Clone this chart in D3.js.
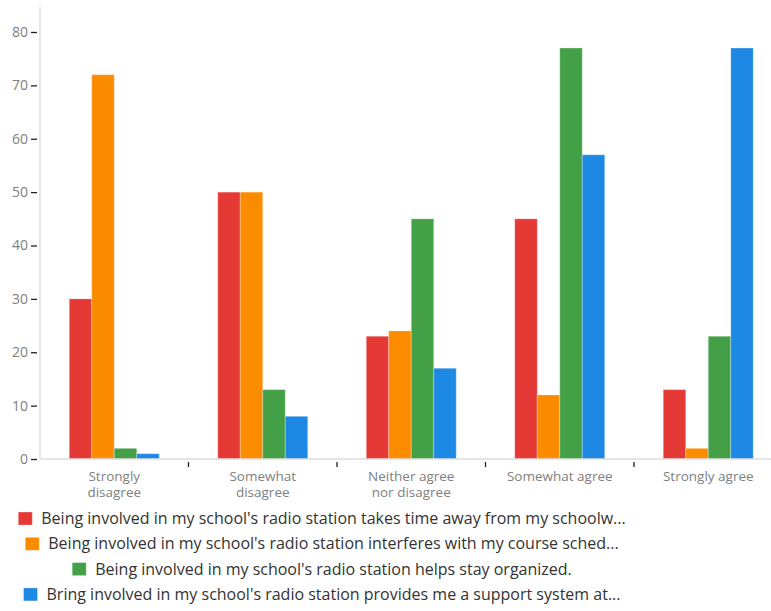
<!DOCTYPE html>
<html>
<head>
<meta charset="utf-8">
<script src="https://cdn.jsdelivr.net/npm/d3@7"></script>
<style>
  html, body { margin: 0; padding: 0; background: #fff; }
  svg { display: block; font-family: "Open Sans", "Noto Sans", sans-serif; }
</style>
</head>
<body>
<svg id="chart" width="771" height="611"></svg>
<script>
// Response categories (x axis) and how their labels break over lines
const categories = ["Strongly disagree", "Somewhat disagree", "Neither agree nor disagree", "Somewhat agree", "Strongly agree"];
const categoryLines = [["Strongly", "disagree"], ["Somewhat", "disagree"], ["Neither agree", "nor disagree"], ["Somewhat agree"], ["Strongly agree"]];

// One series per statement
const seriesNames = [
  "Being involved in my school's radio station takes time away from my schoolw...",
  "Being involved in my school's radio station interferes with my course sched...",
  "Being involved in my school's radio station helps stay organized.",
  "Bring involved in my school's radio station provides me a support system at..."
];
const takesTime    = [30, 50, 23, 45, 13];
const interferes   = [72, 50, 24, 12, 2];
const organized    = [2, 13, 45, 77, 23];
const supportSys   = [1, 8, 17, 57, 77];
const seriesValues = [takesTime, interferes, organized, supportSys];

const yTicks = [0, 10, 20, 30, 40, 50, 60, 70, 80];
const colors = ["#e53935", "#fb8c00", "#43a047", "#1e88e5"];

const svg = d3.select("#chart");

const left = 40, bandW = 148.5, bottom = 459;
const x = d3.scaleBand().domain(categories).range([left, left + bandW * categories.length]).padding(0);
const y = d3.scaleLinear().domain([0, 80]).range([bottom, 32]);
const xs = d3.scaleBand().domain(d3.range(seriesNames.length))
  .range([0, x.bandwidth()]).paddingOuter(1.3).paddingInner(0);

// Bars
const groups = svg.append("g").selectAll("g")
  .data(categories).join("g")
  .attr("transform", d => `translate(${x(d)},0)`);

groups.selectAll("rect")
  .data((d, i) => seriesValues.map((vals, s) => ({ s, v: vals[i] })))
  .join("rect")
  .attr("x", d => xs(d.s))
  .attr("width", xs.bandwidth())
  .attr("y", d => y(d.v))
  .attr("height", d => y(0) - y(d.v))
  .attr("fill", d => colors[d.s])
  .attr("stroke", "rgba(255,255,255,0.3)")
  .attr("stroke-width", 1);

// Y axis
const yAxis = svg.append("g").attr("transform", `translate(${left},0)`)
  .call(d3.axisLeft(y).tickValues(yTicks).tickSize(0).tickPadding(12));
yAxis.select(".domain").remove();
yAxis.append("line").attr("x1", 0).attr("x2", 0).attr("y1", 7).attr("y2", bottom)
  .attr("stroke", "#dcdcdc").attr("stroke-width", 1.5);
yAxis.selectAll(".tick").append("line")
  .attr("x1", -9).attr("x2", -3).attr("stroke", "#222").attr("stroke-width", 1.3);
yAxis.selectAll(".tick text").attr("fill", "#808080").attr("font-size", 14)
  .attr("font-family", "'Open Sans', sans-serif");

// X axis
const xAxis = svg.append("g").attr("transform", `translate(0,${bottom})`);
xAxis.append("line").attr("x1", left).attr("x2", 771).attr("stroke", "#dcdcdc").attr("stroke-width", 1.5);
xAxis.selectAll(".sep").data(categories.slice(1)).join("line")
  .attr("class", "sep")
  .attr("x1", d => x(d)).attr("x2", d => x(d))
  .attr("y1", 3).attr("y2", 8).attr("stroke", "#222").attr("stroke-width", 1.3);

xAxis.selectAll(".xl").data(categories).join("text")
  .attr("class", "xl")
  .attr("text-anchor", "middle")
  .attr("fill", "#808080")
  .attr("font-size", 13.5)
  .selectAll("tspan")
  .data((d, i) => categoryLines[i].map(l => ({ cat: d, l })))
  .join("tspan")
  .attr("x", d => x(d.cat) + x.bandwidth() / 2)
  .attr("y", (d, j) => 22 + j * 16)
  .text(d => d.l);

// Legend, each row centered
const legendCx = 322;
const legend = svg.append("g");
seriesNames.forEach((name, i) => {
  const row = legend.append("g");
  const txt = row.append("text").attr("y", 524 + i * 25.3)
    .attr("fill", "#333").attr("font-size", 16).text(name);
  const tw = txt.node().getComputedTextLength();
  const total = 14 + 9 + tw;
  const x0 = legendCx - total / 2;
  row.append("rect").attr("x", x0).attr("y", 512 + i * 25.3)
    .attr("width", 14).attr("height", 13).attr("fill", colors[i])
    .attr("stroke", "rgba(255,255,255,0.3)");
  txt.attr("x", x0 + 23);
});
</script>
</body>
</html>
